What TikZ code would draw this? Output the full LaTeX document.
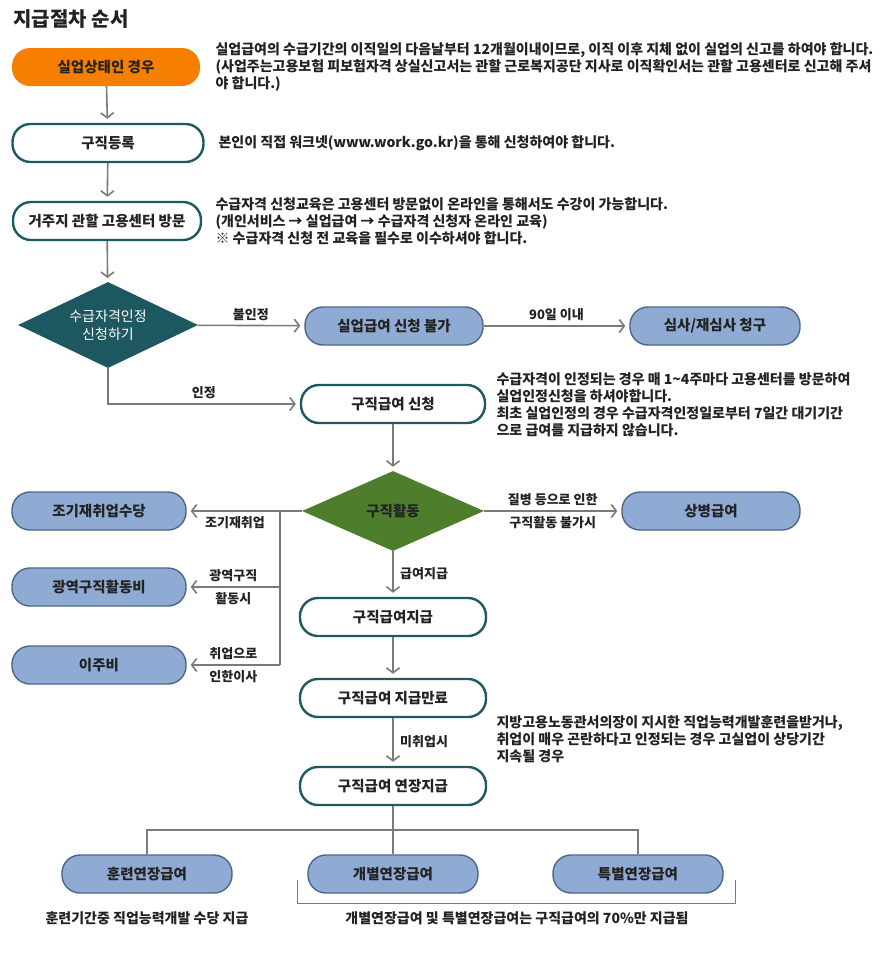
\documentclass[tikz,border=0pt]{standalone}
\usepackage{fontspec}
\setmainfont{Noto Sans CJK KR}
\usetikzlibrary{shapes.geometric,arrows.meta}
\definecolor{orangefill}{HTML}{F77F00}
\definecolor{tealline}{HTML}{1E5A62}
\definecolor{tealfill}{HTML}{1D5760}
\definecolor{greenfill}{HTML}{4E7D2C}
\definecolor{bluefill}{HTML}{8FABD3}
\definecolor{blueline}{HTML}{4C6687}
\definecolor{arrowgray}{HTML}{7A7A7A}
\definecolor{inktext}{HTML}{222222}
\begin{document}
\begin{tikzpicture}[x=1pt,y=-1pt,
    font=\bfseries\fontsize{14.5}{17}\selectfont, text=inktext,
    pill/.style={rectangle, rounded corners=18pt, minimum height=38pt,
        inner sep=0pt, align=center},
    startbox/.style={pill, fill=orangefill, minimum width=188pt},
    whitebox/.style={pill, draw=tealline, line width=2.4pt, fill=white},
    bluebox/.style={pill, draw=blueline, line width=1.4pt, fill=bluefill},
    choice/.style={diamond, aspect=2.1, inner sep=0pt, align=center},
    flow/.style={draw=arrowgray, line width=1.6pt,
        -{Straight Barb[length=5pt,width=13pt,line width=1.6pt]}, shorten >=4pt},
    tree/.style={draw=arrowgray, line width=1.5pt},
    tag/.style={font=\bfseries\fontsize{13}{15}\selectfont},
    note/.style={anchor=west, align=left,
        font=\bfseries\fontsize{14}{17}\selectfont},
  ]
  \useasboundingbox (0,0) rectangle (885,964);

  \node[anchor=west, font=\bfseries\fontsize{20}{22}\selectfont] (title) at (10,19) {지급절차 순서};

  % main column
  \node[startbox] (jobless) at (106,67) {실업상태인 경우};
  \node[whitebox, minimum width=191pt] (register) at (108,143) {구직등록};
  \node[whitebox, minimum width=188pt] (visit) at (107,221) {거주지 관할 고용센터 방문};
  \node[choice, fill=tealfill, text=white, minimum width=180pt, minimum height=86pt,
    font=\fontsize{14}{18}\selectfont] (qualify) at (108,325) {수급자격인정\\신청하기};
  \node[bluebox, minimum width=178pt] (refused) at (394,326) {실업급여 신청 불가};
  \node[bluebox, minimum width=170pt] (review) at (715,326) {심사/재심사 청구};
  \node[whitebox, minimum width=184pt] (apply) at (393,404) {구직급여 신청};
  \node[choice, fill=greenfill, minimum width=182pt, minimum height=80pt] (search) at (393,511) {구직활동};
  \node[bluebox, minimum width=178pt] (sick) at (711,511) {상병급여};
  \node[whitebox, minimum width=186pt] (paid) at (393,617) {구직급여지급};
  \node[whitebox, minimum width=186pt] (ended) at (393,698) {구직급여 지급만료};
  \node[whitebox, minimum width=186pt] (extend) at (393,786) {구직급여 연장지급};

  % left branch
  \node[bluebox, minimum width=174pt] (early) at (99,511) {조기재취업수당};
  \node[bluebox, minimum width=174pt] (wide) at (99,587) {광역구직활동비};
  \node[bluebox, minimum width=174pt] (move) at (99,665) {이주비};

  % extensions
  \node[bluebox, minimum width=170pt] (train) at (147,874) {훈련연장급여};
  \node[bluebox, minimum width=170pt] (indiv) at (393,874) {개별연장급여};
  \node[bluebox, minimum width=170pt] (special) at (638,874) {특별연장급여};

  % notes
  \node[note] (note1) at (212,67) {실업급여의 수급기간의 이직일의 다음날부터 12개월이내이므로, 이직 이후 지체 없이 실업의 신고를 하여야 합니다.\\(사업주는고용보험 피보험자격 상실신고서는 관할 근로복지공단 지사로 이직확인서는 관할 고용센터로 신고해 주셔\\야 합니다.)};
  \node[note] (note2) at (215,143) {본인이 직접 워크넷(www.work.go.kr)을 통해 신청하여야 합니다.};
  \node[note] (note3) at (212,221) {수급자격 신청교육은 고용센터 방문없이 온라인을 통해서도 수강이 가능합니다.\\(개인서비스 → 실업급여 → 수급자격 신청자 온라인 교육)\\※ 수급자격 신청 전 교육을 필수로 이수하셔야 합니다.};
  \node[note] (note4) at (493,405) {수급자격이 인정되는 경우 매 1\textasciitilde 4주마다 고용센터를 방문하여\\실업인정신청을 하셔야합니다.\\최초 실업인정의 경우 수급자격인정일로부터 7일간 대기기간\\으로 급여를 지급하지 않습니다.};
  \node[note] (note5) at (493,739) {지방고용노동관서의장이 지시한 직업능력개발훈련을받거나,\\취업이 매우 곤란하다고 인정되는 경우 고실업이 상당기간\\지속될 경우};
  \node[tag, font=\bfseries\fontsize{14}{16}\selectfont] (note6) at (147,918) {훈련기간중 직업능력개발 수당 지급};
  \node[tag, font=\bfseries\fontsize{14}{16}\selectfont] (note7) at (517,918) {개별연장급여 및 특별연장급여는 구직급여의 70\%만 지급됨};

  % connectors
  \draw[flow] (jobless) -- (register);
  \draw[flow] (register) -- (visit);
  \draw[flow] (visit) -- (qualify);
  \draw[flow] (qualify) -- node[tag, above=1pt] {불인정} (refused);
  \draw[flow] (refused) -- node[tag, above=1pt] {90일 이내} (review);
  \draw[flow] (qualify.south) |- node[tag, pos=0.75, above=1pt] {인정} (apply.west);
  \draw[flow] (apply) -- (search);
  \draw[flow] (search) -- node[tag, above=1pt] {질병 등으로 인한}
    node[tag, below=1pt] {구직활동 불가시} (sick);
  \draw[flow] (search) -- node[tag, right=3pt] {급여지급} (paid);
  \draw[flow] (paid) -- (ended);
  \draw[flow] (ended) -- node[tag, right=3pt] {미취업시} (extend);

  \coordinate (split) at (280,511);
  \draw[flow] (search.west) -- (early.east);
  \node[tag, below=2pt] (earlytag) at (235,511) {조기재취업};
  \draw[tree] (split) -- (split |- move.east);
  \draw[flow] (split |- wide.east) -- node[tag, above=1pt] {광역구직}
    node[tag, below=1pt] {활동시} (wide.east);
  \draw[flow] (split |- move.east) -- node[tag, above=1pt] {취업으로}
    node[tag, below=1pt] {인한이사} (move.east);

  \coordinate (fork) at (393,830);
  \draw[tree] (extend) -- (fork) -- (indiv);
  \draw[tree] (train) |- (fork) -| (special);
  \coordinate (bracketl) at (297,880);
  \coordinate (bracketr) at (735,880);
  \draw[draw=arrowgray, line width=1pt] (bracketl) -- ++(0,23) -| (bracketr);
\end{tikzpicture}
\end{document}
